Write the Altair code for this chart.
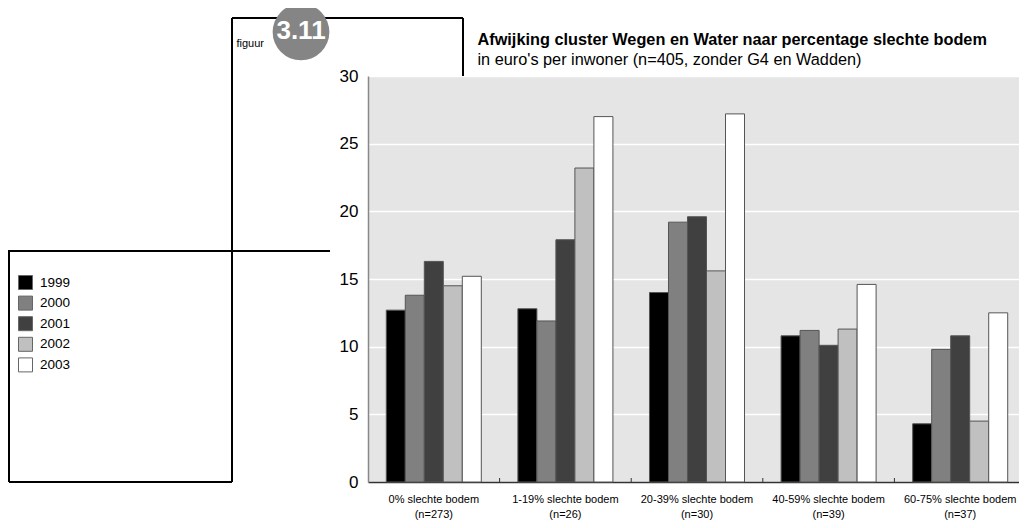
import altair as alt
import pandas as pd

# ---- data ----
categories = ["0% slechte bodem", "1-19% slechte bodem", "20-39% slechte bodem",
              "40-59% slechte bodem", "60-75% slechte bodem"]
counts = ["(n=273)", "(n=26)", "(n=30)", "(n=39)", "(n=37)"]
years = ["1999", "2000", "2001", "2002", "2003"]
v1999 = [12.7, 12.8, 14.0, 10.8, 4.3]
v2000 = [13.8, 11.9, 19.2, 11.2, 9.8]
v2001 = [16.3, 17.9, 19.6, 10.1, 10.8]
v2002 = [14.5, 23.2, 15.6, 11.3, 4.5]
v2003 = [15.2, 27.0, 27.2, 14.6, 12.5]
y_ticks = [0, 5, 10, 15, 20, 25, 30]
colors = ["#000000", "#808080", "#404040", "#c0c0c0", "#ffffff"]

title_text = "Afwijking cluster Wegen en Water naar percentage slechte bodem"
subtitle_text = "in euro's per inwoner (n=405, zonder G4 en Wadden)"
badge_text = "3.11"
figuur_text = "figuur"

series = [v1999, v2000, v2001, v2002, v2003]
cat_labels = [c + "|" + n for c, n in zip(categories, counts)]
rows = []
for yr, vals in zip(years, series):
    for cl, v in zip(cat_labels, vals):
        rows.append({"cat": cl, "year": yr, "value": v})
df = pd.DataFrame(rows)

W, H = 651, 406
SANS = "Liberation Sans"

x_scale = alt.Scale(domain=cat_labels, range=[0, 658], paddingInner=0.278, paddingOuter=0.139)

bars = alt.Chart(df).mark_bar(stroke="#555555", strokeWidth=1).encode(
    x=alt.X("cat:N", scale=x_scale, sort=cat_labels,
            axis=alt.Axis(title=None, labelExpr="split(datum.label, '|')", labelFont=SANS,
                          labelFontSize=11, labelLineHeight=15, labelPadding=20, ticks=False,
                          domainColor="#333333", domainWidth=1.5, labelAngle=0, grid=False,
                          labelColor="black", labelBaseline="alphabetic", labelLimit=200)),
    xOffset=alt.XOffset("year:N", scale=alt.Scale(domain=years, paddingInner=0, paddingOuter=0)),
    y=alt.Y("value:Q", scale=alt.Scale(domain=[0, 30], nice=False),
            axis=alt.Axis(values=y_ticks, title=None, labelFont=SANS, labelFontSize=17,
                          labelPadding=10, ticks=False, domainColor="#888888", domainWidth=1.5,
                          gridColor="white", gridWidth=1.5, labelColor="black")),
    color=alt.Color("year:N", scale=alt.Scale(domain=years, range=colors),
                    legend=alt.Legend(title=None, orient="none", legendX=-350, legendY=199,
                                      symbolType="square", symbolSize=196,
                                      symbolStrokeColor="#666666", symbolStrokeWidth=1,
                                      labelFont=SANS, labelFontSize=13.5, labelOffset=7,
                                      rowPadding=1.6, padding=0, labelColor="black")),
)

ticks = alt.Chart(pd.DataFrame({"cat": cat_labels})).mark_rule(
    color="#333333", strokeWidth=1, xOffset=18.3).encode(
    x=alt.X("cat:N", scale=x_scale, bandPosition=1),
    y=alt.value(H - 4),
    y2=alt.value(H),
)

one = alt.InlineData(values=[{"k": 1}])


def line(x1, y1, x2, y2):
    return alt.Chart(one).mark_rule(color="black", strokeWidth=2).encode(
        x=alt.value(x1), x2=alt.value(x2), y=alt.value(y1), y2=alt.value(y2))


frame = [
    line(-136, -58, 95, -58),     # frame top
    line(95, -58, 95, 0),         # frame right
    line(-136, -58, -136, 406),   # frame left
    line(-368, 175, -38, 175),    # legend box top
    line(-359, 175, -359, 406),   # legend box left
    line(-359, 406, -136, 406),   # legend box bottom
]

badge = alt.Chart(one).mark_circle(color="#858585", opacity=1, size=3217).encode(
    x=alt.value(-67), y=alt.value(-44))
badge_lbl = alt.Chart(one).mark_text(text=badge_text, font=SANS, fontSize=26, fontWeight="bold",
                                     color="white", align="center", baseline="middle").encode(
    x=alt.value(-67), y=alt.value(-45))
figuur = alt.Chart(one).mark_text(text=figuur_text, font=SANS, fontSize=11, color="black",
                                  align="left", baseline="alphabetic").encode(
    x=alt.value(-131.5), y=alt.value(-29.5))
title = alt.Chart(one).mark_text(text=title_text, font=SANS, fontSize=16.3, fontWeight="bold",
                                 color="black", align="left", baseline="alphabetic").encode(
    x=alt.value(109.5), y=alt.value(-31))
subtitle = alt.Chart(one).mark_text(text=subtitle_text, font=SANS, fontSize=16.3, color="black",
                                    align="left", baseline="alphabetic").encode(
    x=alt.value(109.5), y=alt.value(-11))

chart = alt.layer(bars, ticks, *frame, badge, badge_lbl, figuur, title, subtitle).properties(
    width=W, height=H,
    padding={"left": 360, "top": 68, "right": 0, "bottom": 38},
    autosize=alt.AutoSizeParams(type="none"),
).configure_view(fill="#e5e5e5", stroke="transparent")

chart.save("out.html", embed_options={"renderer": "svg", "actions": False})
